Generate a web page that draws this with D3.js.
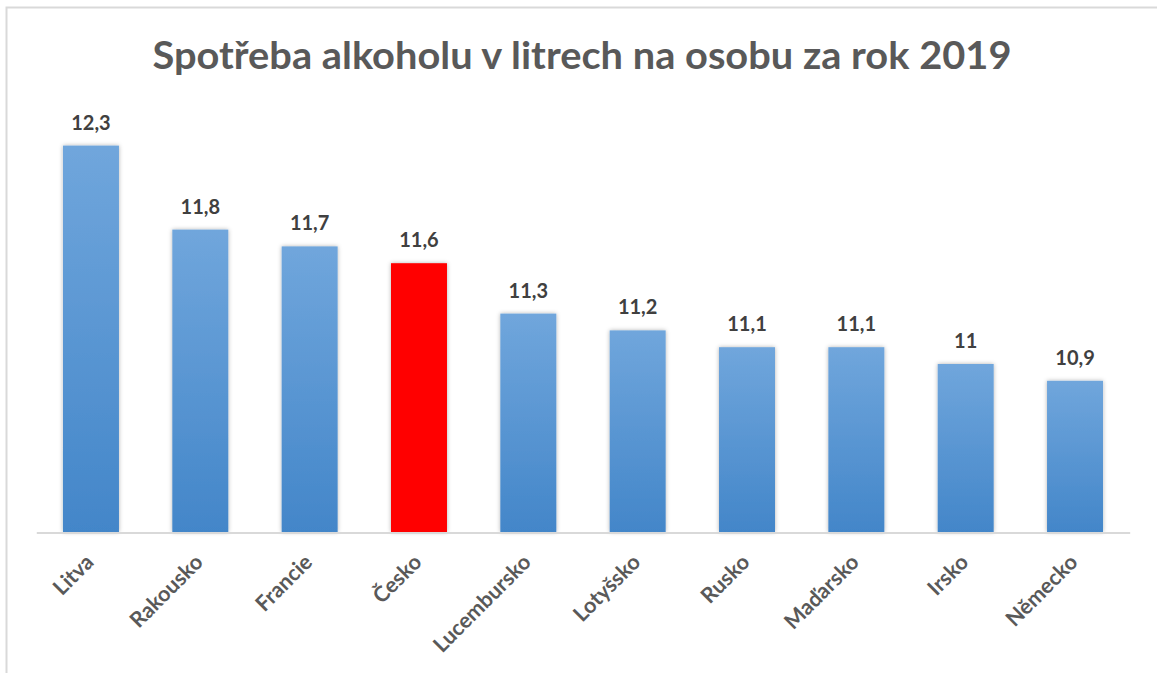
<!DOCTYPE html>
<html>
<head>
<meta charset="utf-8">
<script src="https://cdn.jsdelivr.net/npm/d3@7"></script>
<style>
  body { margin: 0; background: #fff; }
  text { font-family: Lato, "Open Sans", sans-serif; font-weight: 700; }
</style>
</head>
<body>
<svg id="chart" width="1157" height="673"></svg>
<script>
const countries = ["Litva", "Rakousko", "Francie", "Česko", "Lucembursko", "Lotyšsko", "Rusko", "Maďarsko", "Irsko", "Německo"];
const litres = [12.3, 11.8, 11.7, 11.6, 11.3, 11.2, 11.1, 11.1, 11.0, 10.9];
const highlight = "Česko";
const titleText = "Spotřeba alkoholu v litrech na osobu za rok 2019";

const svg = d3.select("#chart");
const W = 1157, H = 673;
const plot = {left: 36.3, right: 1129.7, top: 112, bottom: 532};

const defs = svg.append("defs");
const grad = defs.append("linearGradient")
  .attr("id", "blueGrad")
  .attr("x1", 0).attr("y1", 0).attr("x2", 0).attr("y2", 1);
grad.append("stop").attr("offset", "0%").attr("stop-color", "#70a6dc");
grad.append("stop").attr("offset", "100%").attr("stop-color", "#4386c9");

const shadow = defs.append("filter").attr("id", "shadow")
  .attr("x", "-20%").attr("y", "-10%").attr("width", "140%").attr("height", "120%");
shadow.append("feDropShadow")
  .attr("dx", 0).attr("dy", 0).attr("stdDeviation", 2.2)
  .attr("flood-color", "#000").attr("flood-opacity", 0.3);

// outer frame (only top and left edges are visible)
svg.append("path")
  .attr("d", `M6.5,${H} V7.5 H${W}`)
  .attr("fill", "none")
  .attr("stroke", "#d9d9d9")
  .attr("stroke-width", 2);

const x = d3.scaleBand()
  .domain(countries)
  .range([plot.left, plot.right])
  .paddingInner(0.488)
  .paddingOuter(0.244);

const y = d3.scaleLinear()
  .domain([10, 12.5])
  .range([plot.bottom, plot.top]);

// title
svg.append("text")
  .attr("x", 582)
  .attr("y", 69)
  .attr("text-anchor", "middle")
  .attr("font-size", 38)
  .attr("fill", "#595959")
  .attr("textLength", 859)
  .attr("lengthAdjust", "spacingAndGlyphs")
  .text(titleText);

// bars
svg.append("g")
  .selectAll("rect")
  .data(countries)
  .join("rect")
  .attr("x", d => x(d))
  .attr("y", (d, i) => y(litres[i]))
  .attr("width", x.bandwidth())
  .attr("height", (d, i) => y(10) - y(litres[i]))
  .attr("fill", d => d === highlight ? "#ff0000" : "url(#blueGrad)")
  .attr("filter", "url(#shadow)");

// axis baseline
const xAxis = svg.append("g")
  .attr("transform", `translate(0,${plot.bottom + 0.5})`)
  .call(d3.axisBottom(x).tickSize(0).tickPadding(0));
xAxis.select(".domain").attr("stroke", "#d9d9d9").attr("stroke-width", 2);

// rotated category labels
xAxis.selectAll(".tick text")
  .attr("font-family", "Lato, 'Open Sans', sans-serif")
  .attr("font-weight", 700)
  .attr("font-size", 21.5)
  .attr("fill", "#595959")
  .attr("text-anchor", "end")
  .attr("dy", 0)
  .attr("transform", "translate(4,31) rotate(-45)");

// value labels
svg.append("g")
  .selectAll("text")
  .data(countries)
  .join("text")
  .attr("x", d => x(d) + x.bandwidth() / 2)
  .attr("y", (d, i) => y(litres[i]) - 16)
  .attr("text-anchor", "middle")
  .attr("font-size", 20)
  .attr("fill", "#404040")
  .text((d, i) => String(litres[i]).replace(".", ","));
</script>
</body>
</html>
